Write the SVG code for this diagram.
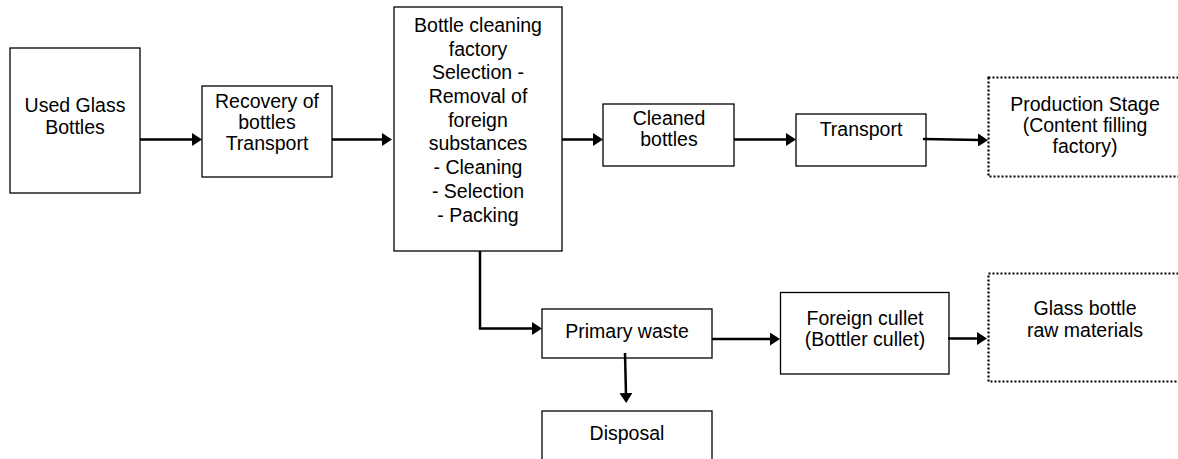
<svg xmlns="http://www.w3.org/2000/svg" width="1178" height="459" viewBox="0 0 1178 459">
<style>
.box{fill:#fff;stroke:#000;stroke-width:1.3}
.dot{fill:#fff;stroke:#000;stroke-width:2.2;stroke-dasharray:2 2}
.t{font-family:"Liberation Sans",Arial,sans-serif;font-size:19.5px;fill:#000;text-anchor:middle}
.c{fill:none;stroke:#000;stroke-width:2.5}
</style>
<defs>
<marker id="ah" markerUnits="userSpaceOnUse" markerWidth="10" markerHeight="13" viewBox="0 0 10 13" refX="2" refY="6.5" orient="auto">
<path d="M0,0 L10,6.5 L0,13 Z" fill="#000"/>
</marker>
</defs>
<rect width="1178" height="459" fill="#fff"/>
<g id="used">
<rect class="box" x="10" y="48" width="130" height="145"/>
<text class="t" x="75" y="112">Used Glass</text>
<text class="t" x="75" y="134">Bottles</text>
</g>
<g id="recovery">
<rect class="box" x="202" y="86" width="130" height="91"/>
<text class="t" x="267" y="107.5">Recovery of</text>
<text class="t" x="267" y="128.5">bottles</text>
<text class="t" x="267" y="150">Transport</text>
</g>
<g id="factory">
<rect class="box" x="394" y="7" width="168" height="244"/>
<text class="t" x="478" y="32">Bottle cleaning</text>
<text class="t" x="478" y="55.7">factory</text>
<text class="t" x="478" y="79.4">Selection -</text>
<text class="t" x="478" y="103">Removal of</text>
<text class="t" x="478" y="126.7">foreign</text>
<text class="t" x="478" y="150.4">substances</text>
<text class="t" x="478" y="174">- Cleaning</text>
<text class="t" x="478" y="197.8">- Selection</text>
<text class="t" x="478" y="221.5">- Packing</text>
</g>
<g id="cleaned">
<rect class="box" x="603" y="104" width="131" height="62"/>
<text class="t" x="669" y="125">Cleaned</text>
<text class="t" x="669" y="146">bottles</text>
</g>
<g id="transport">
<rect class="box" x="796" y="114" width="130" height="52"/>
<text class="t" x="861" y="136">Transport</text>
</g>
<g id="production">
<rect class="dot" x="988.5" y="77.5" width="210" height="99"/>
<text class="t" x="1085" y="110.5">Production Stage</text>
<text class="t" x="1085" y="131.5">(Content filling</text>
<text class="t" x="1085" y="152.5">factory)</text>
</g>
<g id="primary">
<rect class="box" x="542" y="309" width="170" height="49"/>
<text class="t" x="627" y="338">Primary waste</text>
</g>
<g id="disposal">
<rect class="box" x="542" y="411" width="170" height="60"/>
<text class="t" x="627" y="440">Disposal</text>
</g>
<g id="foreign">
<rect class="box" x="780.5" y="292.5" width="168.5" height="81.5"/>
<text class="t" x="865" y="324.5">Foreign cullet</text>
<text class="t" x="865" y="346">(Bottler cullet)</text>
</g>
<g id="rawmat">
<rect class="dot" x="988.5" y="273.5" width="210" height="108"/>
<text class="t" x="1085" y="315">Glass bottle</text>
<text class="t" x="1085" y="337">raw materials</text>
</g>
<g id="connectors">
<path class="c" d="M140,139.5 H194" marker-end="url(#ah)"/>
<path class="c" d="M332,139.5 H384" marker-end="url(#ah)"/>
<path class="c" d="M562,139.5 H595" marker-end="url(#ah)"/>
<path class="c" d="M734,139.5 H788" marker-end="url(#ah)"/>
<path class="c" d="M923,139 L980,140" marker-end="url(#ah)"/>
<path class="c" d="M480,251 V328.5 H534" marker-end="url(#ah)"/>
<path class="c" d="M712,339 H772" marker-end="url(#ah)"/>
<path class="c" d="M948,338.5 H979" marker-end="url(#ah)"/>
<path class="c" d="M625,353 L626,395" marker-end="url(#ah)"/>
</g>
</svg>
